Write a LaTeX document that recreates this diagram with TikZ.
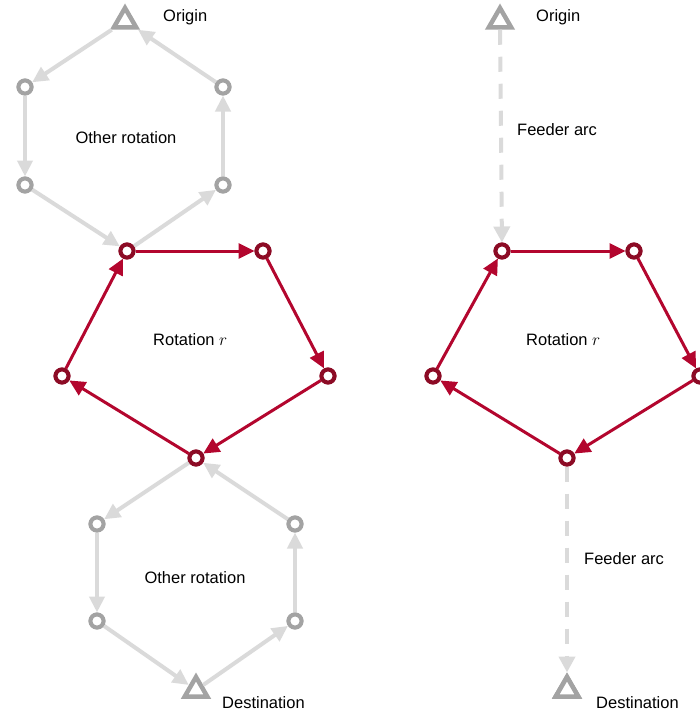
\documentclass[tikz,border=0pt]{standalone}
\usepackage{fontspec}
\setmainfont{Liberation Sans}
\usetikzlibrary{arrows.meta,shapes.geometric}
\definecolor{rednode}{HTML}{8C0B25}
\definecolor{redline}{HTML}{B3062E}
\definecolor{greynode}{HTML}{A3A3A3}
\definecolor{greyline}{HTML}{DADADA}
\tikzset{
  rnode/.style={circle,draw=rednode,fill=white,line width=4pt,minimum size=13pt,inner sep=0pt},
  gnode/.style={circle,draw=greynode,fill=white,line width=4pt,minimum size=13pt,inner sep=0pt},
  tnode/.style={regular polygon,regular polygon sides=3,draw=greynode,fill=white,line width=4.5pt,minimum size=26pt,inner sep=0pt},
  redge/.style={draw=redline,line width=3pt,-{Triangle[length=16pt,width=15pt]}},
  gedge/.style={draw=greyline,line width=4pt,-{Triangle[length=16pt,width=15pt]}},
  fedge/.style={draw=greyline,line width=4pt,dash pattern=on 15pt off 12pt,-{Triangle[length=16pt,width=16pt]}},
  lbl/.style={font=\fontsize{16.5}{19}\selectfont,inner sep=0pt}
}
\begin{document}
\begin{tikzpicture}[x=1pt,y=-1pt]
\useasboundingbox (0,0) rectangle (700,717);
% ---------- left panel ----------
\node[tnode] (o1) at (125,21) {};
\node[lbl,anchor=west] at (163,17) {Origin};
\node[gnode] (g1) at (25,87) {};
\node[gnode] (g2) at (223,87) {};
\node[gnode] (g3) at (25,185) {};
\node[gnode] (g4) at (223,185) {};
\node[lbl] at (126,138) {Other rotation};

\node[rnode] (a1) at (127,251) {};
\node[rnode] (a2) at (263,251) {};
\node[rnode] (a3) at (328,376) {};
\node[rnode] (a4) at (196,458) {};
\node[rnode] (a5) at (62,376) {};
\node[lbl,anchor=west] at (153,340) {Rotation $r$};

\node[gnode] (h1) at (97,524) {};
\node[gnode] (h2) at (295,524) {};
\node[gnode] (h3) at (97,621) {};
\node[gnode] (h4) at (295,621) {};
\node[tnode] (d1) at (196,690) {};
\node[lbl] at (195,578) {Other rotation};
\node[lbl,anchor=west] at (222,703) {Destination};

\draw[gedge] (o1) -- (g1);
\draw[gedge] (g1) -- (g3);
\draw[gedge] (g3) -- (a1);
\draw[gedge] (a1) -- (g4);
\draw[gedge] (g4) -- (g2);
\draw[gedge] (g2) -- (o1);

\draw[gedge] (a4) -- (h1);
\draw[gedge] (h1) -- (h3);
\draw[gedge] (h3) -- (d1);
\draw[gedge] (d1) -- (h4);
\draw[gedge] (h4) -- (h2);
\draw[gedge] (h2) -- (a4);

\draw[redge] (a1) -- (a2);
\draw[redge] (a2) -- (a3);
\draw[redge] (a3) -- (a4);
\draw[redge] (a4) -- (a5);
\draw[redge] (a5) -- (a1);
\foreach \n in {a1,a2,a3,a4,a5} \node[rnode] at (\n) {};
\foreach \n in {g1,g2,g3,g4,h1,h2,h3,h4} \node[gnode] at (\n) {};

% ---------- right panel ----------
\node[tnode] (o2) at (500,21) {};
\node[lbl,anchor=west] at (536,17) {Origin};
\node[rnode] (b1) at (502,251) {};
\node[rnode] (b2) at (634,251) {};
\node[rnode] (b3) at (700,376) {};
\node[rnode] (b4) at (567,458) {};
\node[rnode] (b5) at (433,376) {};
\node[lbl,anchor=west] at (526,340) {Rotation $r$};
\node[tnode] (d2) at (567,690) {};
\node[lbl,anchor=west] at (596,703) {Destination};
\node[lbl,anchor=west] at (517,130) {Feeder arc};
\node[lbl,anchor=west] at (584,559) {Feeder arc};

\draw[fedge] (o2) -- (b1);
\draw[fedge] (b4) -- (d2);
\draw[redge] (b1) -- (b2);
\draw[redge] (b2) -- (b3);
\draw[redge] (b3) -- (b4);
\draw[redge] (b4) -- (b5);
\draw[redge] (b5) -- (b1);
\foreach \n in {b1,b2,b3,b4,b5} \node[rnode] at (\n) {};
\node[tnode] at (d2) {};
\end{tikzpicture}
\end{document}
